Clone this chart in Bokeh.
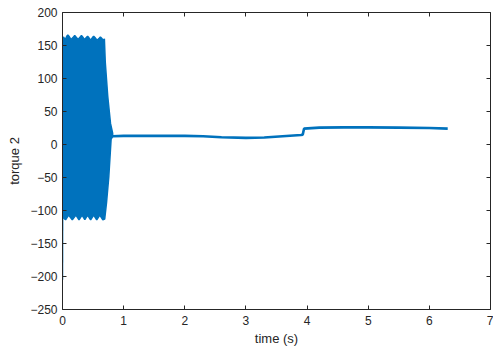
from bokeh.plotting import figure
from bokeh.models import LinearAxis, FixedTicker, Range1d
from bokeh.embed import file_html
from bokeh.resources import INLINE

# ---- data ----
# upper envelope of the dense oscillation (time s, torque)
osc_upper_t = [0.000, 0.015, 0.045, 0.070, 0.087, 0.105, 0.140, 0.180, 0.200, 0.220,
               0.255, 0.290, 0.310, 0.330, 0.360, 0.390, 0.410, 0.430, 0.460, 0.490,
               0.510, 0.530, 0.565, 0.600, 0.620, 0.640, 0.665, 0.685, 0.700, 0.740,
               0.785, 0.820]
osc_upper_v = [152, 163, 159, 164, 166, 164, 159, 163, 165, 163,
               159, 163, 165, 163, 159, 162, 164, 162, 158, 162,
               164, 162, 158, 161, 163, 161, 158, 160, 124, 73,
               32, 17]
# lower envelope of the dense oscillation
osc_lower_t = [0.000, 0.050, 0.100, 0.160, 0.220, 0.270, 0.320, 0.365, 0.410, 0.460,
               0.510, 0.560, 0.610, 0.660, 0.690, 0.720, 0.757, 0.795, 0.820]
osc_lower_v = [-110, -114, -107, -114, -107, -114, -107, -114, -107, -114,
               -107, -114, -107, -114, -113, -88, -49, 8, 12]
# start-up spike at t = 0
spike_t = [0.000, 0.002]
spike_v = [-205, -110]
# slow part after the oscillation
tail_t = [0.82, 1.00, 1.50, 2.00, 2.30, 2.60, 3.00, 3.30, 3.60, 3.90, 3.93, 3.95,
          4.20, 4.60, 5.00, 5.50, 6.00, 6.30]
tail_v = [12.5, 13.0, 13.0, 13.0, 12.5, 11.0, 10.0, 10.5, 12.5, 14.5, 15.0, 24.0,
          25.5, 26.0, 26.0, 25.5, 25.0, 24.0]

x_ticks = [0, 1, 2, 3, 4, 5, 6, 7]
y_ticks = [-250, -200, -150, -100, -50, 0, 50, 100, 150, 200]

BLUE = "#0072BD"
AX = "#262626"
FONT = "Liberation Sans"

p = figure(width=493, height=351, output_backend="svg", toolbar_location=None,
           x_range=Range1d(0, 7), y_range=Range1d(-250, 200),
           min_border_left=62, min_border_top=12, min_border_right=3,
           min_border_bottom=42, outline_line_color=None)
p.grid.visible = False
p.background_fill_color = "white"
p.border_fill_color = "white"

# oscillation band (upper envelope then lower envelope reversed)
p.patch(osc_upper_t + osc_lower_t[::-1], osc_upper_v + osc_lower_v[::-1],
        fill_color=BLUE, line_color=BLUE, line_width=1.5)
p.line(spike_t, spike_v, line_color=BLUE, line_width=1.5)
p.line(tail_t, tail_v, line_color=BLUE, line_width=2.6)

def style(ax, labels=True):
    ax.axis_line_color = AX
    ax.axis_line_width = 1
    ax.major_tick_line_color = AX
    ax.major_tick_in = 4
    ax.major_tick_out = 0
    ax.minor_tick_line_color = None
    if labels:
        ax.major_label_text_font = FONT
        ax.major_label_text_font_size = "12px"
        ax.major_label_text_color = AX
    else:
        ax.major_label_text_font_size = "1px"
        ax.major_label_text_color = None
        ax.major_label_standoff = 0

style(p.xaxis[0])
style(p.yaxis[0])
p.xaxis[0].ticker = FixedTicker(ticks=x_ticks)
p.yaxis[0].ticker = FixedTicker(ticks=y_ticks)
p.xaxis[0].major_label_standoff = 6
p.yaxis[0].major_label_standoff = 5
p.xaxis[0].axis_label = "time (s)"
p.yaxis[0].axis_label = "torque 2"
for ax in (p.xaxis[0], p.yaxis[0]):
    ax.axis_label_text_font = FONT
    ax.axis_label_text_font_size = "13px"
    ax.axis_label_text_font_style = "normal"
    ax.axis_label_text_color = AX
p.xaxis[0].axis_label_standoff = 3
p.yaxis[0].axis_label_standoff = 5

top = LinearAxis(ticker=FixedTicker(ticks=x_ticks))
right = LinearAxis(ticker=FixedTicker(ticks=y_ticks))
style(top, labels=False)
style(right, labels=False)
p.add_layout(top, "above")
p.add_layout(right, "right")

open("out.html", "w").write(file_html(p, INLINE))
